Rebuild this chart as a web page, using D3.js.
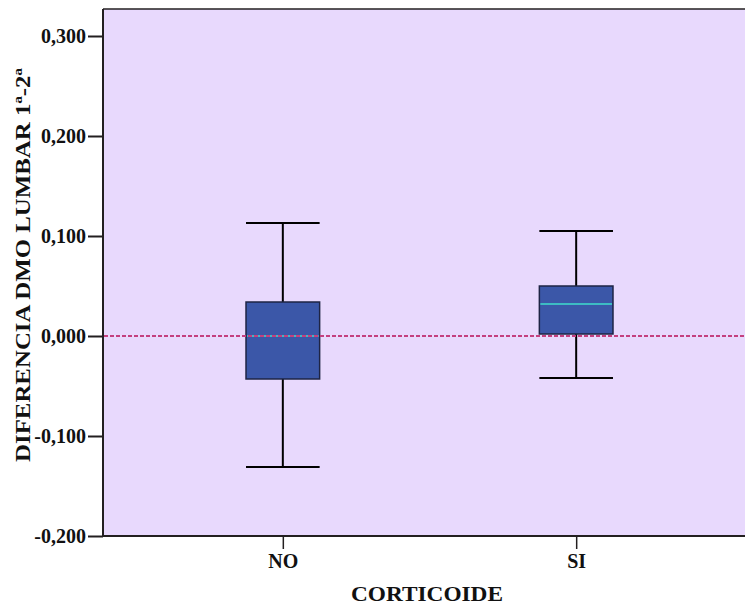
<!DOCTYPE html>
<html>
<head>
<meta charset="utf-8">
<script src="https://cdn.jsdelivr.net/npm/d3@7"></script>
<style>
  html, body { margin: 0; padding: 0; background: #fff; }
  svg { display: block; }
  text { font-family: "Liberation Serif", "Times New Roman", serif; font-weight: bold; fill: #111; }
</style>
</head>
<body>
<svg id="chart" width="745" height="606"></svg>
<script>
// Box-plot summaries per group (whisker low, Q1, median, Q3, whisker high)
const categories = ["NO", "SI"];
const whiskerLow = [-0.131, -0.042];
const q1 = [-0.043, 0.002];
const median = [0.000, 0.032];
const q3 = [0.034, 0.050];
const whiskerHigh = [0.113, 0.105];
const yTicks = [-0.2, -0.1, 0, 0.1, 0.2, 0.3];
const referenceValue = 0;

const svg = d3.select("#chart");
const plotLeft = 103, plotTop = 9, plotBottom = 536, plotRight = 756;

const y = d3.scaleLinear().domain([-0.2, 0.3]).range([plotBottom, plotBottom - 500]);
const x = d3.scalePoint().domain(categories).range([plotLeft, plotRight]).padding(0.613);
const boxW = x.step() * 0.251;

const fmt = v => d3.format(".3f")(v).replace(".", ",").replace("−", "-");

// plot background
svg.append("rect")
  .attr("x", plotLeft).attr("y", plotTop)
  .attr("width", 745 - plotLeft).attr("height", plotBottom - plotTop)
  .attr("fill", "#E8D9FD");

// top frame line
svg.append("line")
  .attr("x1", plotLeft).attr("x2", 745).attr("y1", plotTop).attr("y2", plotTop)
  .attr("stroke", "#231F20").attr("stroke-width", 1.5);

// axes
const yAxis = d3.axisLeft(y).tickValues(yTicks).tickFormat(fmt).tickSize(15).tickPadding(2);
const gy = svg.append("g").attr("transform", `translate(${plotLeft},0)`).call(yAxis);
gy.select(".domain").attr("stroke", "#231F20").attr("stroke-width", 2)
  .attr("d", `M0,${plotTop}V${plotBottom}`);
gy.selectAll(".tick line").attr("stroke", "#231F20").attr("stroke-width", 2);
gy.selectAll(".tick text").attr("font-size", 20).attr("font-family", "Liberation Serif").attr("font-weight", "bold").attr("fill", "#111");

const xAxis = d3.axisBottom(x).tickSize(13).tickPadding(5);
const gx = svg.append("g").attr("transform", `translate(0,${plotBottom})`).call(xAxis);
gx.select(".domain").attr("stroke", "#231F20").attr("stroke-width", 2)
  .attr("d", `M${plotLeft},0H745`);
gx.selectAll(".tick line").attr("stroke", "#231F20").attr("stroke-width", 1.5);
gx.selectAll(".tick text").attr("font-size", 20).attr("font-family", "Liberation Serif").attr("font-weight", "bold").attr("fill", "#111");

// boxes
const data = categories.map((c, i) => ({
  c, lo: whiskerLow[i], q1: q1[i], med: median[i], q3: q3[i], hi: whiskerHigh[i]
}));

const g = svg.append("g");
data.forEach(d => {
  const cx = x(d.c);
  // whiskers
  g.append("line").attr("x1", cx).attr("x2", cx).attr("y1", y(d.hi)).attr("y2", y(d.q3))
    .attr("stroke", "#000").attr("stroke-width", 2);
  g.append("line").attr("x1", cx).attr("x2", cx).attr("y1", y(d.q1)).attr("y2", y(d.lo))
    .attr("stroke", "#000").attr("stroke-width", 2);
  [d.hi, d.lo].forEach(v => {
    g.append("line").attr("x1", cx - boxW / 2).attr("x2", cx + boxW / 2)
      .attr("y1", y(v)).attr("y2", y(v))
      .attr("stroke", "#000").attr("stroke-width", 2);
  });
  // box
  g.append("rect")
    .attr("x", cx - boxW / 2).attr("y", y(d.q3))
    .attr("width", boxW).attr("height", y(d.q1) - y(d.q3))
    .attr("fill", "#3B57A8").attr("stroke", "#1E2444").attr("stroke-width", 1.5);
  // median
  g.append("line").attr("x1", cx - boxW / 2 + 1).attr("x2", cx + boxW / 2 - 1)
    .attr("y1", y(d.med)).attr("y2", y(d.med))
    .attr("stroke", "#3DBBC3").attr("stroke-width", 2);
});

// reference line at zero
svg.append("line")
  .attr("x1", plotLeft + 1).attr("x2", 745)
  .attr("y1", y(referenceValue)).attr("y2", y(referenceValue))
  .attr("stroke", "#C4407F").attr("stroke-width", 2)
  .attr("stroke-dasharray", "4,2");

// axis titles
svg.append("text")
  .attr("x", 427).attr("y", 601)
  .attr("text-anchor", "middle")
  .attr("font-size", 21)
  .attr("textLength", 152).attr("lengthAdjust", "spacingAndGlyphs")
  .text("CORTICOIDE");

svg.append("text")
  .attr("transform", `translate(30,265) rotate(-90)`)
  .attr("text-anchor", "middle")
  .attr("font-size", 21)
  .attr("textLength", 394).attr("lengthAdjust", "spacingAndGlyphs")
  .text("DIFERENCIA DMO LUMBAR 1ª-2ª");
</script>
</body>
</html>
